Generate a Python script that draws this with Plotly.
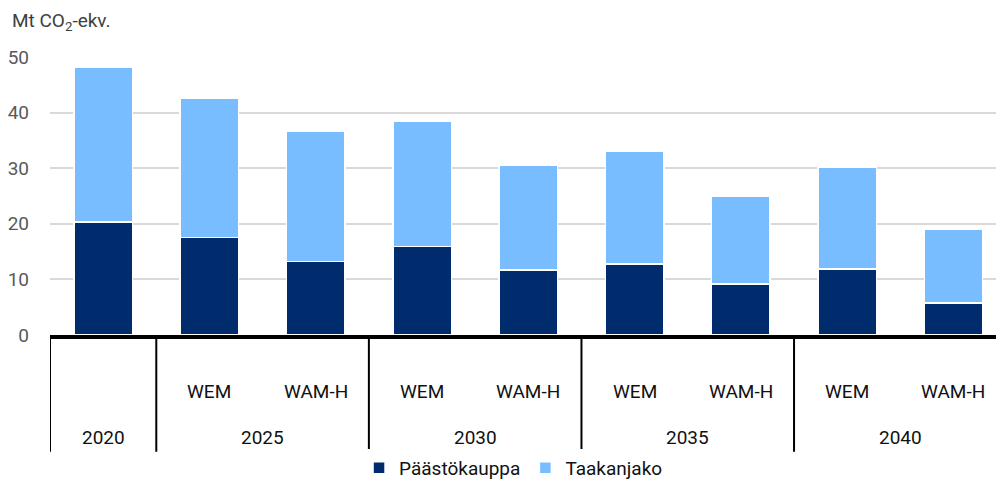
import plotly.graph_objects as go

years = ["2020", "2025", "2025", "2030", "2030", "2035", "2035", "2040", "2040"]
scenarios = ["", "WEM", "WAM-H", "WEM", "WAM-H", "WEM", "WAM-H", "WEM", "WAM-H"]
paastokauppa = [20.3, 17.5, 13.2, 15.9, 11.7, 12.8, 9.2, 11.9, 5.8]
totals = [48.1, 42.6, 36.6, 38.4, 30.5, 33.1, 24.9, 30.2, 19.0]
taakanjako = [round(t - p, 2) for t, p in zip(totals, paastokauppa)]
series_names = ["Päästökauppa", "Taakanjako"]
y_ticks = [0, 10, 20, 30, 40, 50]

FONT = "Roboto, sans-serif"
DARK = "#002B6C"
LIGHT = "#78BDFF"

cats = [f"{y} {s}".strip() for y, s in zip(years, scenarios)]

fig = go.Figure()
fig.add_bar(x=cats, y=paastokauppa, name=series_names[0], marker=dict(color=DARK, line=dict(color="white", width=1.5)), width=0.55)
fig.add_bar(x=cats, y=taakanjako, name=series_names[1], marker=dict(color=LIGHT, line=dict(color="white", width=1.5)), width=0.55)

annotations = []
shapes = []
for i, s in enumerate(scenarios):
    if s:
        annotations.append(dict(x=i, y=-0.205, xref="x", yref="paper", yanchor="middle", text=s, showarrow=False,
                                font=dict(family=FONT, size=19, color="#111111")))
groups = []
for i, y in enumerate(years):
    if groups and groups[-1][0] == y:
        groups[-1][2] = i
    else:
        groups.append([y, i, i])
for y, a, b in groups:
    annotations.append(dict(x=(a + b) / 2, y=-0.367, xref="x", yref="paper", yanchor="middle", text=y, showarrow=False,
                            font=dict(family=FONT, size=19, color="#111111")))
    shapes.append(dict(type="line", xref="x", yref="paper", x0=a - 0.5, x1=a - 0.5, y0=-0.01, y1=-0.42,
                       line=dict(color="black", width=2)))

fig.update_layout(
    barmode="stack",
    width=996, height=481,
    margin=dict(l=50, r=0, t=57, b=146),
    plot_bgcolor="white", paper_bgcolor="white",
    font=dict(family=FONT, size=19, color="#111111"),
    title=dict(text="Mt CO<sub>2</sub>-ekv.", x=0.012, xanchor="left", xref="container",
               y=1 - 20.5 / 481, yanchor="middle", yref="container", font=dict(family=FONT, size=19, color="#404040")),
    xaxis=dict(type="category", range=[-0.5, len(cats) - 0.6], showticklabels=False, ticks="",
               showline=True, linecolor="black", linewidth=4, showgrid=False),
    yaxis=dict(range=[0, 50], tickvals=y_ticks, showgrid=True, gridcolor="#d9d9d9", gridwidth=2,
               zeroline=False, showline=False, ticks="", ticklabelstandoff=20,
               tickfont=dict(family=FONT, size=19, color="#595959")),
    legend=dict(orientation="h", x=0.49, xanchor="center", xref="paper", y=13 / 481, yanchor="middle", yref="container",
                font=dict(family=FONT, size=19, color="#111111"), traceorder="normal", itemwidth=30),
    annotations=annotations,
    shapes=shapes,
    bargap=0.45,
)

fig.write_html("out.html", config={"displayModeBar": False},
               post_script="document.body.style.margin='0';document.body.style.overflow='hidden';")
